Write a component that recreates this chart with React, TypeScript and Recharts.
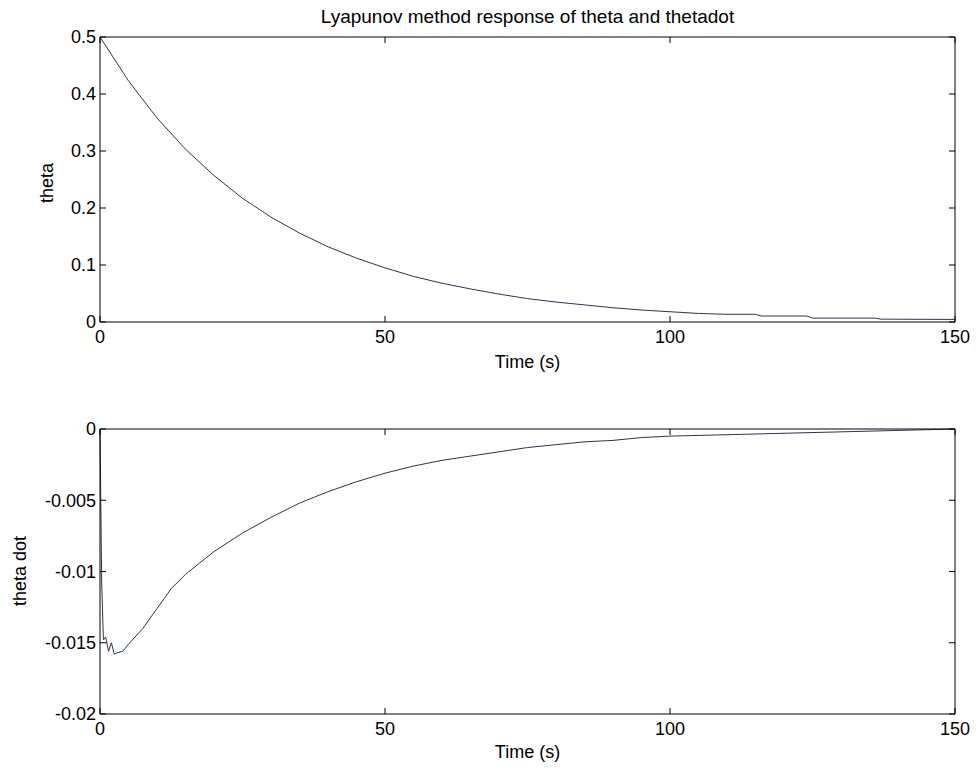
import { LineChart, Line, XAxis, YAxis } from "recharts";

const thetaTime = [0, 5, 10, 15, 20, 25, 30, 35, 40, 45, 50, 55, 60, 65, 70, 75, 80, 85, 90, 95, 100, 105, 110, 115, 116, 124, 125, 136, 137, 150];
const thetaValues = [0.5, 0.423, 0.358, 0.303, 0.257, 0.217, 0.184, 0.156, 0.132, 0.112, 0.095, 0.08, 0.068, 0.058, 0.049, 0.041, 0.035, 0.03, 0.025, 0.021, 0.018, 0.015, 0.0135, 0.0135, 0.0105, 0.0105, 0.0068, 0.0068, 0.005, 0.0045];

const dotTime = [0, 0.3, 0.6, 1, 1.5, 2, 2.5, 3, 4, 5, 7.5, 10, 12.5, 15, 17.5, 20, 25, 30, 35, 40, 45, 50, 55, 60, 65, 70, 75, 80, 85, 90, 95, 100, 110, 120, 130, 140, 150];
const dotValues = [0, -0.0108, -0.0148, -0.0146, -0.0156, -0.015, -0.0158, -0.0157, -0.0156, -0.0151, -0.014, -0.0126, -0.0112, -0.0102, -0.0094, -0.0086, -0.0073, -0.0062, -0.0052, -0.0044, -0.0037, -0.0031, -0.0026, -0.0022, -0.0019, -0.0016, -0.0013, -0.0011, -0.0009, -0.0008, -0.0006, -0.0005, -0.0004, -0.0003, -0.0002, -0.0001, 0];

const xTicks = [0, 50, 100, 150];
const thetaTicks = [0, 0.1, 0.2, 0.3, 0.4, 0.5];
const dotTicks = [-0.02, -0.015, -0.01, -0.005, 0];

const thetaData = thetaTime.map((t, i) => ({ t, y: thetaValues[i] }));
const dotData = dotTime.map((t, i) => ({ t, y: dotValues[i] }));

const font = "'Liberation Sans', Arial, sans-serif";
const tickStyle = { fontSize: 18, fill: "#000", fontFamily: font };
const blank = () => "";

function Panel({ data, yTicks, yDomain, top, height, marginTop, yWidth }: any) {
  return (
    <div style={{ position: "absolute", left: 0, top }}>
      <LineChart
        width={979}
        height={height}
        data={data}
        margin={{ top: marginTop - 1, left: 100 - yWidth, right: 23, bottom: height - marginTop - 285 - 30 }}
      >
        <XAxis
          dataKey="t"
          type="number"
          domain={[0, 150]}
          ticks={xTicks}
          stroke="#000"
          tick={tickStyle}
          fontSize={18}
          fontFamily={font}
          tickSize={-6}
          tickMargin={14}
          height={30}
          interval={0}
        />
        <XAxis
          xAxisId="top"
          orientation="top"
          dataKey="t"
          type="number"
          domain={[0, 150]}
          ticks={xTicks}
          stroke="#000"
          tickFormatter={blank}
          tickSize={-6}
          height={1}
          interval={0}
        />
        <YAxis
          type="number"
          domain={yDomain}
          ticks={yTicks}
          stroke="#000"
          tick={tickStyle}
          fontSize={18}
          fontFamily={font}
          tickSize={-6}
          tickMargin={10}
          width={yWidth}
          interval={0}
        />
        <YAxis
          yAxisId="right"
          orientation="right"
          type="number"
          domain={yDomain}
          ticks={yTicks}
          stroke="#000"
          tickFormatter={blank}
          tickSize={-6}
          width={1}
          interval={0}
        />
        <Line
          xAxisId="top"
          yAxisId="right"
          dataKey="y"
          stroke="none"
          dot={false}
          activeDot={false}
          isAnimationActive={false}
        />
        <Line
          dataKey="y"
          stroke="#24384d"
          strokeWidth={1}
          dot={false}
          isAnimationActive={false}
          type="linear"
        />
      </LineChart>
    </div>
  );
}

const textStyle = { position: "absolute" as const, fontFamily: font, fontSize: 18, lineHeight: "20px", color: "#000", whiteSpace: "nowrap" as const };

export default function App() {
  return (
    <div style={{ position: "absolute", left: 0, top: 0, width: 979, height: 770, background: "#fff", overflow: "hidden" }}>
      <div style={{ ...textStyle, fontSize: 19, left: 0, width: 1055, top: 7, textAlign: "center" }}>
        Lyapunov method response of theta and thetadot
      </div>
      <Panel
        data={thetaData}
        yTicks={thetaTicks}
        yDomain={[0, 0.5]}
        top={0}
        height={380}
        marginTop={37}
        yWidth={60}
      />
      <Panel
        data={dotData}
        yTicks={dotTicks}
        yDomain={[-0.02, 0]}
        top={392}
        height={378}
        marginTop={37}
        yWidth={70}
      />
      <div style={{ ...textStyle, left: 100, width: 855, top: 352, textAlign: "center" }}>Time (s)</div>
      <div style={{ ...textStyle, left: 100, width: 855, top: 742, textAlign: "center" }}>Time (s)</div>
      <div style={{ ...textStyle, left: 47, top: 183, transform: "translate(-50%, -50%) rotate(-90deg)" }}>theta</div>
      <div style={{ ...textStyle, left: 20, top: 571, transform: "translate(-50%, -50%) rotate(-90deg)" }}>theta dot</div>
    </div>
  );
}
